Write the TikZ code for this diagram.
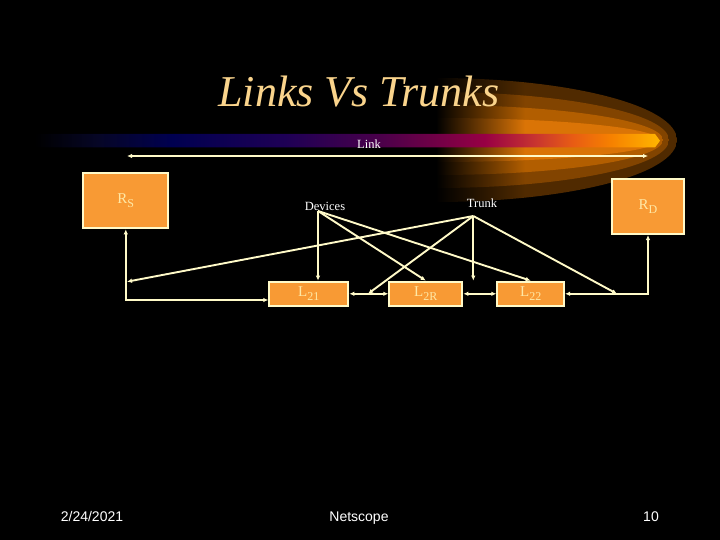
\documentclass[tikz,border=0pt]{standalone}
\usepackage{fontspec}
\setmainfont{Liberation Serif}
\newfontfamily\footfont{Liberation Sans}
\usetikzlibrary{arrows.meta}

\definecolor{boxfill}{RGB}{248,154,52}
\definecolor{cream}{RGB}{255,250,200}
\definecolor{boxtext}{RGB}{255,232,165}
\definecolor{titlegold}{RGB}{250,212,140}
\definecolor{glowA}{RGB}{80,42,0}
\definecolor{glowB}{RGB}{130,68,0}
\definecolor{glowC}{RGB}{178,94,0}
\definecolor{glowD}{RGB}{218,116,6}
\definecolor{barA}{RGB}{6,6,38}
\definecolor{barB}{RGB}{0,0,80}
\definecolor{barC}{RGB}{30,0,85}
\definecolor{barD}{RGB}{70,0,75}
\definecolor{barE}{RGB}{112,0,70}
\definecolor{barF}{RGB}{152,0,68}
\definecolor{barG}{RGB}{200,52,48}
\definecolor{barH}{RGB}{232,92,20}
\definecolor{barI}{RGB}{246,128,0}
\definecolor{barJ}{RGB}{255,182,0}
\pgfdeclarehorizontalshading{linkbar}{100bp}{color(0bp)=(black); color(25bp)=(black);
  color(30bp)=(barA); color(36bp)=(barB); color(45bp)=(barC); color(52bp)=(barD);
  color(57bp)=(barE); color(61bp)=(barF); color(65bp)=(barG); color(68bp)=(barH);
  color(71bp)=(barI); color(75bp)=(barJ); color(100bp)=(barJ)}
\newcommand\lowsub[1]{\raisebox{-0.5ex}{\fontsize{12}{12}\selectfont #1}}

\begin{document}
\begin{tikzpicture}[x=1pt,y=-1pt,
  boxnode/.style={draw=cream,line width=2pt,fill=boxfill,text=boxtext,inner sep=0pt,
    font=\fontsize{15}{17}\selectfont},
  wire/.style={draw=cream,line width=1.9pt},
  lbl/.style={text=white,inner sep=1pt,font=\fontsize{12.5}{14}\selectfont},
  foot/.style={text=white,inner sep=0pt,anchor=base,font=\footfont\fontsize{14}{16}\selectfont},
  >={Latex[length=5pt,width=4.5pt]}]
\useasboundingbox (0,0) rectangle (720,540);
\fill[black] (0,0) rectangle (720,540);

% glow behind the bar
\foreach \h/\tip/\c in {62/677/glowA,48/669/glowB,35/663/glowC,22/659/glowD}{
  \begin{scope}
    \clip (436,140) ellipse [x radius=\tip-436, y radius=\h];
    \shade[left color=black,right color=\c] (436,140-\h) rectangle (525,140+\h);
    \fill[\c] (525,140-\h) rectangle (\tip,140+\h);
  \end{scope}
}
\shade[shading=linkbar] (35,134) -- (655,134) -- (660,140.7) -- (655,147.5) -- (35,147.5) -- cycle;

\node[text=titlegold,inner sep=0pt,font=\fontsize{44}{50}\selectfont\itshape] (title) at (359,92) {Links Vs Trunks};

% link arrow
\node[lbl] (linklbl) at (369,144) {Link};
\coordinate (linkL) at (127,156);
\coordinate (linkR) at (648,156);
\draw[wire,<->] (linkL) -- (linkR);

% boxes
\node[boxnode,minimum width=85,minimum height=55] (rs) at (125.8,200.8) {R\lowsub{S}};
\node[boxnode,minimum width=72.7,minimum height=54.7] (rd) at (648,206.7) {R\lowsub{D}};
\node[boxnode,minimum width=79,minimum height=24.3] (l21) at (308.8,293.8) {L\lowsub{21}};
\node[boxnode,minimum width=73,minimum height=24.3] (l2r) at (425.8,293.8) {L\lowsub{2R}};
\node[boxnode,minimum width=66.7,minimum height=24.3] (l22) at (530.7,293.8) {L\lowsub{22}};

\node[lbl] (devices) at (325,206) {Devices};
\node[lbl] (trunk) at (482,203) {Trunk};
\coordinate (dev) at (318,211);
\coordinate (trk) at (473.3,216);
\coordinate (rsfoot) at (125.8,300);
\coordinate (rstap) at (127,281.7);
\coordinate (jl) at (368,293.8);
\coordinate (jr) at (617,293.8);

% connectors
\draw[wire,<->] (rs.south) -- (rsfoot) -- (rsfoot -| l21.west);
\draw[wire,<->] (l21.east) -- (l2r.west);
\draw[wire,<->] (l2r.east) -- (l22.west);
\draw[wire,<->] (l22.east) -| (rd.south);

\draw[wire,->] (dev) -- (dev |- l21.north);
\draw[wire,->] (dev) -- (l2r.north);
\draw[wire,->] (dev) -- (l22.north);

\draw[wire,->] (trk) -- (rstap);
\draw[wire,->] (trk) -- (jl);
\draw[wire,->] (trk) -- (trk |- l2r.north east);
\draw[wire,->] (trk) -- (jr);

% footer
\node[foot] (date) at (92,521) {2/24/2021};
\node[foot] (org) at (359,521) {Netscope};
\node[foot] (page) at (651,521) {10};
\end{tikzpicture}
\end{document}
